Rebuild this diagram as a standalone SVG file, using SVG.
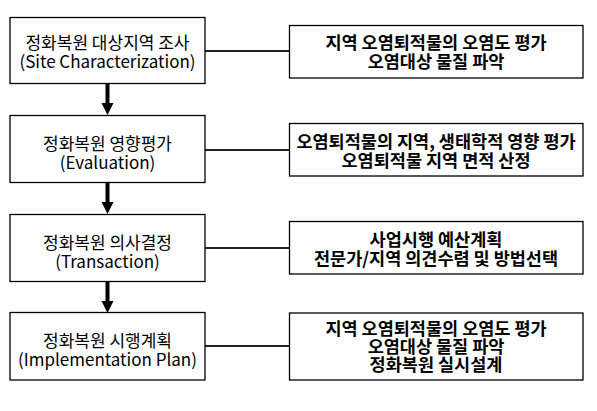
<svg xmlns="http://www.w3.org/2000/svg" width="597" height="411" viewBox="0 0 597 411">
<style>
rect{fill:#fff;stroke:#000;stroke-width:1.3}
text{font-family:"Noto Sans CJK KR","Noto Sans",sans-serif;font-size:17px;text-anchor:middle;fill:#000}
.r text{font-weight:bold;font-size:17.5px}
.c line{stroke:#222;stroke-width:2}
.a line{stroke:#000;stroke-width:4}
.a polygon{fill:#000}
</style>
<rect x="0" y="0" width="597" height="411" style="stroke:none"/>
<g class="c" id="connectors">
<line x1="205" y1="51" x2="289.5" y2="51"/>
<line x1="205" y1="150" x2="289.5" y2="150"/>
<line x1="205" y1="248" x2="289.5" y2="248"/>
<line x1="205" y1="346" x2="289.5" y2="346"/>
</g>
<g class="a" id="arrows">
<line x1="107.5" y1="83.5" x2="107.5" y2="104"/>
<polygon points="101.5,103 113.5,103 107.5,115"/>
<line x1="107.5" y1="182.5" x2="107.5" y2="203"/>
<polygon points="101.5,202 113.5,202 107.5,214"/>
<line x1="107.5" y1="281.5" x2="107.5" y2="302"/>
<polygon points="101.5,301 113.5,301 107.5,313"/>
</g>
<g id="n1"><rect x="10" y="17.5" width="195" height="66"/><text x="107.5" y="49">정화복원 대상지역 조사</text><text x="107.5" y="68">(Site Characterization)</text></g>
<g id="n2"><rect x="10" y="115.5" width="195" height="67"/><text x="107.5" y="150">정화복원 영향평가</text><text x="107.5" y="169">(Evaluation)</text></g>
<g id="n3"><rect x="10" y="214.5" width="195" height="67"/><text x="107.5" y="249">정화복원 의사결정</text><text x="107.5" y="268">(Transaction)</text></g>
<g id="n4"><rect x="10" y="312.5" width="195" height="67.5"/><text x="107.5" y="347">정화복원 시행계획</text><text x="107.5" y="366">(Implementation Plan)</text></g>
<g class="r">
<g id="r1"><rect x="289.5" y="25.5" width="293.5" height="52.5"/><text x="436" y="49">지역 오염퇴적물의 오염도 평가</text><text x="436" y="67.5">오염대상 물질 파악</text></g>
<g id="r2"><rect x="289.5" y="123.5" width="293.5" height="52.5"/><text x="436" y="148">오염퇴적물의 지역, 생태학적 영향 평가</text><text x="436" y="166.5">오염퇴적물 지역 면적 산정</text></g>
<g id="r3"><rect x="289.5" y="221.5" width="293.5" height="52.5"/><text x="436" y="246">사업시행 예산계획</text><text x="436" y="264.5">전문가/지역 의견수렴 및 방법선택</text></g>
<g id="r4"><rect x="289.5" y="313" width="293.5" height="67"/><text x="436" y="335">지역 오염퇴적물의 오염도 평가</text><text x="436" y="353">오염대상 물질 파악</text><text x="436" y="371">정화복원 실시설계</text></g>
</g>
</svg>
